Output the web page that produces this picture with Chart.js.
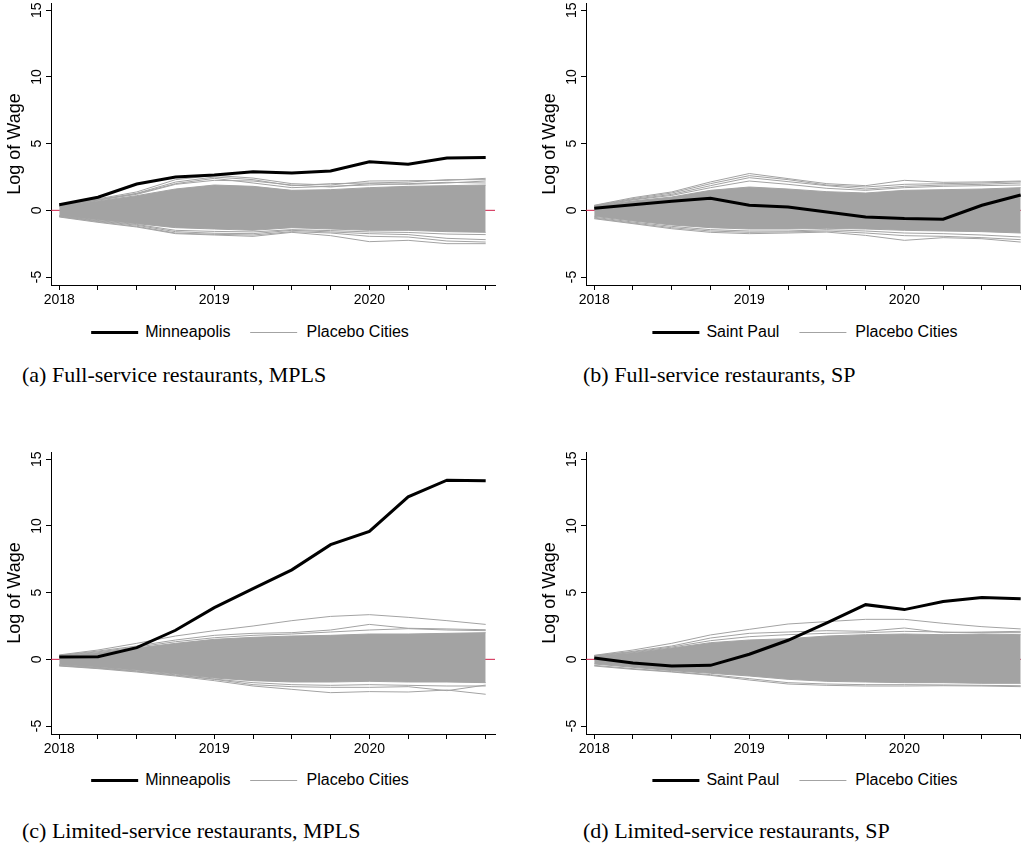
<!DOCTYPE html>
<html>
<head>
<meta charset="utf-8">
<script src="https://cdn.jsdelivr.net/npm/chart.js@4.4.1/dist/chart.umd.min.js"></script>
<style>
  html, body { margin: 0; padding: 0; background: #fff; }
  #page { position: relative; width: 1021px; height: 861px; overflow: hidden; }
  .panel { position: absolute; width: 500px; height: 320px; }
  .legend {
    position: absolute; transform: translate(-50%, -50%);
    display: flex; align-items: center; white-space: nowrap;
    font-family: "Liberation Sans", Arial, sans-serif; font-size: 16px; color: #000;
  }
  .swatch { display: inline-block; width: 47px; }
  .swatch.treated { border-top: 3px solid #000; margin-right: 7px; }
  .swatch.placebo { border-top: 1px solid #a3a3a3; margin-left: 20px; margin-right: 9px; }
  .caption {
    position: absolute; transform: translateY(-50%); white-space: nowrap;
    font-family: "Liberation Serif", "Times New Roman", serif; font-size: 22px; color: #000;
  }
</style>
</head>
<body>
<div id="page">
  <canvas id="fullMplsChart" class="panel" width="500" height="320" style="left:0;top:0"></canvas>
  <canvas id="fullSpChart" class="panel" width="500" height="320" style="left:535px;top:0"></canvas>
  <canvas id="limitedMplsChart" class="panel" width="500" height="320" style="left:0;top:449px"></canvas>
  <canvas id="limitedSpChart" class="panel" width="500" height="320" style="left:535px;top:449px"></canvas>

  <div class="legend" style="left:250px;top:332px"><span class="swatch treated"></span>Minneapolis<span class="swatch placebo"></span>Placebo Cities</div>
  <div class="legend" style="left:805px;top:332px"><span class="swatch treated"></span>Saint Paul<span class="swatch placebo"></span>Placebo Cities</div>
  <div class="legend" style="left:250px;top:780px"><span class="swatch treated"></span>Minneapolis<span class="swatch placebo"></span>Placebo Cities</div>
  <div class="legend" style="left:805px;top:780px"><span class="swatch treated"></span>Saint Paul<span class="swatch placebo"></span>Placebo Cities</div>

  <div class="caption" style="left:22px;top:375px">(a) Full-service restaurants, MPLS</div>
  <div class="caption" style="left:583px;top:375px">(b) Full-service restaurants, SP</div>
  <div class="caption" style="left:22px;top:831px">(c) Limited-service restaurants, MPLS</div>
  <div class="caption" style="left:583px;top:831px">(d) Limited-service restaurants, SP</div>
</div>

<script>
// quarterly observations, 2018Q1 - 2020Q4
const quarters = [2018, 2018.25, 2018.5, 2018.75, 2019, 2019.25, 2019.5, 2019.75, 2020, 2020.25, 2020.5, 2020.75];
const yearTicks = [2018, 2019, 2020];
const wageTicks = [-5, 0, 5, 10, 15];

// (a) full-service, Minneapolis
const fullMpls = [0.42, 0.98, 1.97, 2.5, 2.65, 2.9, 2.8, 2.95, 3.65, 3.45, 3.92, 3.97];
const fullMplsBandHigh = [0.3, 0.7, 1.1, 1.6, 1.9, 1.8, 1.5, 1.55, 1.7, 1.8, 1.85, 1.9];
const fullMplsBandLow = [-0.4, -0.7, -1.0, -1.3, -1.4, -1.5, -1.3, -1.4, -1.5, -1.5, -1.6, -1.65];
const fullMplsPlacebo = [
    [0.36, 0.86, 1.38, 2.3, 2.62, 2.42, 2.0, 1.9, 2.2, 2.22, 2.25, 2.4],
    [0.33, 0.8, 1.28, 2.12, 2.5, 2.3, 1.85, 2.0, 2.05, 2.12, 2.3, 2.3],
    [0.31, 0.76, 1.2, 1.95, 2.25, 2.2, 1.9, 1.75, 2.0, 1.95, 2.05, 2.2],
    [0.32, 0.78, 1.25, 2.0, 2.4, 2.05, 1.7, 1.8, 1.9, 2.0, 2.1, 2.05],
    [-0.5, -0.9, -1.25, -1.75, -1.85, -1.95, -1.65, -1.9, -2.35, -2.25, -2.5, -2.5],
    [-0.46, -0.85, -1.2, -1.7, -1.8, -1.85, -1.6, -1.7, -1.95, -2.0, -2.3, -2.38],
    [-0.45, -0.8, -1.12, -1.6, -1.72, -1.75, -1.5, -1.62, -1.75, -1.82, -2.1, -2.2],
    [-0.42, -0.76, -1.06, -1.5, -1.58, -1.62, -1.45, -1.52, -1.62, -1.66, -1.78, -1.82]
];

// (b) full-service, Saint Paul
const fullSp = [0.15, 0.42, 0.68, 0.9, 0.38, 0.25, -0.12, -0.5, -0.62, -0.66, 0.38, 1.15];
const fullSpBandHigh = [0.3, 0.7, 1.0, 1.5, 1.75, 1.6, 1.4, 1.3, 1.5, 1.55, 1.6, 1.7];
const fullSpBandLow = [-0.45, -0.8, -1.1, -1.3, -1.4, -1.4, -1.35, -1.4, -1.5, -1.55, -1.6, -1.7];
const fullSpPlacebo = [
    [0.38, 0.95, 1.38, 2.13, 2.76, 2.38, 2.0, 1.85, 2.25, 2.1, 2.13, 2.2],
    [0.35, 0.88, 1.3, 2.0, 2.6, 2.3, 1.9, 1.75, 1.95, 2.0, 2.05, 2.15],
    [0.33, 0.82, 1.2, 1.85, 2.45, 2.15, 1.85, 1.6, 1.8, 1.9, 1.95, 2.05],
    [0.32, 0.78, 1.12, 1.7, 2.2, 1.95, 1.65, 1.5, 1.7, 1.8, 1.85, 1.9],
    [-0.63, -1.0, -1.38, -1.65, -1.75, -1.7, -1.63, -1.88, -2.25, -2.05, -2.13, -2.38],
    [-0.58, -0.95, -1.3, -1.55, -1.65, -1.62, -1.55, -1.7, -1.9, -1.95, -2.05, -2.2],
    [-0.52, -0.88, -1.2, -1.45, -1.55, -1.55, -1.45, -1.55, -1.7, -1.75, -1.85, -2.0]
];

// (c) limited-service, Minneapolis
const limitedMpls = [0.18, 0.2, 0.88, 2.18, 3.88, 5.3, 6.71, 8.6, 9.6, 12.19, 13.44, 13.4];
const limitedMplsBandHigh = [0.25, 0.5, 0.85, 1.2, 1.5, 1.65, 1.75, 1.8, 1.9, 1.9, 1.95, 2.0];
const limitedMplsBandLow = [-0.4, -0.6, -0.8, -1.1, -1.4, -1.6, -1.7, -1.7, -1.65, -1.7, -1.7, -1.75];
const limitedMplsPlacebo = [
    [0.33, 0.7, 1.2, 1.75, 2.15, 2.5, 2.9, 3.22, 3.35, 3.15, 2.9, 2.62],
    [0.3, 0.62, 1.0, 1.45, 1.8, 1.95, 2.0, 2.2, 2.62, 2.33, 2.28, 2.22],
    [0.28, 0.56, 0.92, 1.32, 1.62, 1.8, 1.9, 2.05, 2.2, 2.3, 2.2, 2.15],
    [-0.5, -0.7, -0.95, -1.25, -1.6, -2.0, -2.25, -2.5, -2.42, -2.45, -2.3, -2.62],
    [-0.47, -0.66, -0.9, -1.2, -1.5, -1.9, -2.05, -2.1, -2.1, -2.05, -2.35, -1.93],
    [-0.45, -0.64, -0.86, -1.16, -1.48, -1.75, -1.9, -1.95, -1.9, -1.95, -2.0, -2.0]
];

// (d) limited-service, Saint Paul
const limitedSp = [0.1, -0.28, -0.5, -0.45, 0.38, 1.43, 2.73, 4.1, 3.73, 4.33, 4.63, 4.55];
const limitedSpBandHigh = [0.25, 0.5, 0.85, 1.25, 1.45, 1.55, 1.75, 1.85, 1.9, 1.85, 1.9, 1.85];
const limitedSpBandLow = [-0.35, -0.6, -0.85, -1.05, -1.25, -1.5, -1.65, -1.7, -1.75, -1.75, -1.8, -1.8];
const limitedSpPlacebo = [
    [0.3, 0.7, 1.2, 1.83, 2.25, 2.65, 2.83, 3.0, 3.0, 2.7, 2.45, 2.28],
    [0.28, 0.6, 1.0, 1.6, 1.95, 2.05, 2.15, 2.1, 2.35, 2.0, 2.05, 2.1],
    [0.27, 0.55, 0.92, 1.4, 1.7, 1.85, 1.95, 2.0, 2.1, 2.05, 2.0, 2.0],
    [-0.5, -0.75, -0.95, -1.2, -1.55, -1.85, -1.95, -2.0, -2.0, -1.98, -2.0, -2.05],
    [-0.45, -0.7, -0.92, -1.15, -1.45, -1.75, -1.85, -1.9, -1.9, -1.92, -1.95, -1.98]
];

const X_MIN = 2017.947;
const X_MAX = 2020.81;
const GREY = "#a3a3a3";
const RED = "#d0204a";
const SANS = "'Liberation Sans', Arial, sans-serif";

function toPoints(values) {
    return values.map((v, i) => ({ x: quarters[i], y: v }));
}

// y tick labels are drawn upright-rotated like Stata does
const rotatedWageLabels = {
    id: "rotatedWageLabels",
    afterDraw(chart) {
        const yScale = chart.scales.y;
        const ctx = chart.ctx;
        ctx.save();
        ctx.font = "14px " + SANS;
        ctx.fillStyle = "#000";
        ctx.textAlign = "center";
        ctx.textBaseline = "middle";
        wageTicks.forEach(v => {
            ctx.save();
            ctx.translate(37, yScale.getPixelForValue(v));
            ctx.rotate(-Math.PI / 2);
            ctx.fillText(String(v), 0, 0);
            ctx.restore();
        });
        ctx.restore();
    }
};

function drawPanel(canvasId, treated, bandHigh, bandLow, placebos) {

    const line = (values, color, width) => ({
        data: toPoints(values),
        borderColor: color,
        borderWidth: width,
        pointRadius: 0,
        tension: 0,
        fill: false
    });

    const datasets = [line(treated, "#000", 3)];

    placebos.forEach(p => datasets.push(line(p, GREY, 1)));

    // dense core of placebo cities
    const high = line(bandHigh, GREY, 1);
    high.fill = "+1";
    high.backgroundColor = GREY;
    datasets.push(high);
    datasets.push(line(bandLow, GREY, 1));

    // zero reference line
    datasets.push({
        data: [{ x: X_MIN, y: 0 }, { x: X_MAX, y: 0 }],
        borderColor: RED,
        borderWidth: 1,
        pointRadius: 0,
        fill: false
    });

    new Chart(document.getElementById(canvasId), {
        type: "line",
        data: { datasets },
        plugins: [rotatedWageLabels],
        options: {
            responsive: false,
            animation: false,
            devicePixelRatio: 1,
            events: [],
            layout: { padding: { top: 3, right: 5, left: 0, bottom: 0 } },
            plugins: {
                legend: { display: false },
                tooltip: { enabled: false }
            },
            scales: {
                x: {
                    type: "linear",
                    min: X_MIN,
                    max: X_MAX,
                    afterBuildTicks: s => { s.ticks = quarters.map(v => ({ value: v })); },
                    afterFit: s => { s.height = 35; },
                    grid: { drawOnChartArea: false, drawTicks: true, tickLength: 5, color: "#000" },
                    border: { display: true, color: "#000", width: 1 },
                    ticks: {
                        autoSkip: false,
                        maxRotation: 0,
                        minRotation: 0,
                        padding: 2,
                        color: "#000",
                        font: { family: SANS, size: 14 },
                        callback: v => yearTicks.includes(v) ? String(v) : ""
                    }
                },
                y: {
                    type: "linear",
                    min: -5.6,
                    max: 15.55,
                    afterBuildTicks: s => { s.ticks = wageTicks.map(v => ({ value: v })); },
                    afterFit: s => { s.width = 51; },
                    grid: { drawOnChartArea: false, drawTicks: true, tickLength: 5, color: "#000" },
                    border: { display: true, color: "#000", width: 1 },
                    ticks: { display: false },
                    title: {
                        display: true,
                        text: "Log of Wage",
                        color: "#000",
                        font: { family: SANS, size: 18 },
                        padding: { top: 4, bottom: 4 }
                    }
                }
            }
        }
    });
}

drawPanel("fullMplsChart", fullMpls, fullMplsBandHigh, fullMplsBandLow, fullMplsPlacebo);
drawPanel("fullSpChart", fullSp, fullSpBandHigh, fullSpBandLow, fullSpPlacebo);
drawPanel("limitedMplsChart", limitedMpls, limitedMplsBandHigh, limitedMplsBandLow, limitedMplsPlacebo);
drawPanel("limitedSpChart", limitedSp, limitedSpBandHigh, limitedSpBandLow, limitedSpPlacebo);
</script>
</body>
</html>
